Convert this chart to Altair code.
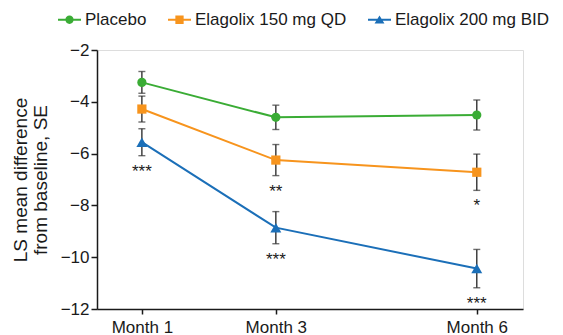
import altair as alt
import pandas as pd

# ---- data ----
months = [1, 3, 6]
month_labels = ["Month 1", "Month 3", "Month 6"]
series_names = ["Placebo", "Elagolix 150 mg QD", "Elagolix 200 mg BID"]
series_colors = ["#3aac35", "#f7941d", "#1b6fb8"]

placebo_mean = [-3.25, -4.60, -4.51]
placebo_se = [0.42, 0.47, 0.58]
placebo_sig = ["", "", ""]

qd150_mean = [-4.28, -6.25, -6.72]
qd150_se = [0.50, 0.60, 0.70]
qd150_sig = ["", "**", "*"]

bid200_mean = [-5.56, -8.86, -10.44]
bid200_se = [0.52, 0.62, 0.74]
bid200_sig = ["***", "***", "***"]

rows = []
for name, means, ses, sigs in [
    (series_names[0], placebo_mean, placebo_se, placebo_sig),
    (series_names[1], qd150_mean, qd150_se, qd150_sig),
    (series_names[2], bid200_mean, bid200_se, bid200_sig),
]:
    for m, v, s, g in zip(months, means, ses, sigs):
        rows.append({"series": name, "month": m, "mean": v,
                     "lo": v - s, "hi": v + s, "sig": g})
df = pd.DataFrame(rows)

legend_df = pd.DataFrame({"series": series_names})

FONT = "Liberation Sans"
INK = "#1a1a1a"

x_enc = alt.X("month:Q",
              scale=alt.Scale(domain=[0.33, 6.69], nice=False, zero=False),
              axis=alt.Axis(values=months, labelExpr="'Month ' + datum.value",
                            title=None, grid=False, tickSize=5, labelPadding=5,
                            labelFontSize=17, labelFont=FONT, labelColor=INK,
                            domainColor=INK, tickColor=INK,
                            domainWidth=1.5, tickWidth=1.5))
y_enc = alt.Y("mean:Q",
              scale=alt.Scale(domain=[-12, -2], nice=False, zero=False),
              axis=alt.Axis(values=[-2, -4, -6, -8, -10, -12],
                            title=["LS mean difference", "from baseline, SE"],
                            titleFontSize=19, titleFont=FONT, titleFontWeight="normal",
                            titleColor=INK, titlePadding=10, titleLineHeight=20,
                            grid=False, tickSize=6, labelPadding=2,
                            labelFontSize=17, labelFont=FONT, labelColor=INK,
                            domainColor=INK, tickColor=INK,
                            domainWidth=1.5, tickWidth=1.5))

color_scale = alt.Scale(domain=series_names, range=series_colors)

base = alt.Chart(df)

lines = base.mark_line(strokeWidth=2).encode(
    x=x_enc, y=y_enc,
    color=alt.Color("series:N", scale=color_scale),
    detail="series:N",
)

err_rule = base.mark_rule(color="#333333", strokeWidth=1.4).encode(
    x="month:Q", y="lo:Q", y2="hi:Q")
cap_lo = base.mark_tick(color="#333333", thickness=1.4, size=7, orient="horizontal").encode(
    x="month:Q", y="lo:Q")
cap_hi = base.mark_tick(color="#333333", thickness=1.4, size=7, orient="horizontal").encode(
    x="month:Q", y="hi:Q")

shape_list = ["circle", "square", "triangle-up"]
size_list = [85, 85, 120]
point_layers = []
for name, shp, sz in zip(series_names, shape_list, size_list):
    point_layers.append(
        base.transform_filter(alt.datum.series == name)
        .mark_point(filled=True, shape=shp, size=sz, opacity=1, strokeWidth=0)
        .encode(x="month:Q", y="mean:Q",
                color=alt.Color("series:N", scale=color_scale))
    )

sig_text = base.mark_text(baseline="top", dy=8, fontSize=17, font=FONT,
                          color=INK).encode(
    x="month:Q", y="lo:Q", text="sig:N")

# legend symbols: marker with a line through it
legend_paths = [
    "M-1,-0.085H1V0.085H-1Z M0,-0.36A0.36,0.36 0 1,1 0,0.36A0.36,0.36 0 1,1 0,-0.36Z",
    "M-1,-0.085H1V0.085H-1Z M-0.36,-0.36H0.36V0.36H-0.36Z",
    "M-1,-0.085H1V0.085H-1Z M0,-0.38L0.43,0.33H-0.43Z",
]
leg = alt.Legend(title=None, orient="none", direction="horizontal",
                 legendX=-39, legendY=-42, symbolSize=529,
                 symbolStrokeWidth=0, labelFontSize=17,
                 labelFont=FONT, labelColor=INK,
                 labelOffset=4, columnPadding=21, padding=0)
legend_layer = alt.Chart(legend_df).mark_point(filled=True, clip=True, opacity=1,
                                              strokeWidth=0).encode(
    x=alt.value(-200), y=alt.value(-200),
    color=alt.Color("series:N", scale=color_scale, legend=leg),
    shape=alt.Shape("series:N", scale=alt.Scale(domain=series_names, range=legend_paths),
                    legend=leg),
)

chart = alt.layer(
    lines, err_rule, cap_lo, cap_hi, *point_layers, sig_text, legend_layer
).properties(
    width=426, height=259,
    autosize=alt.AutoSizeParams(type="none"),
    padding={"left": 89, "top": 42, "right": 32, "bottom": 26},
).configure_view(stroke=None).configure(background="white")

chart.save("out.html", embed_options={"renderer": "svg", "actions": False})
